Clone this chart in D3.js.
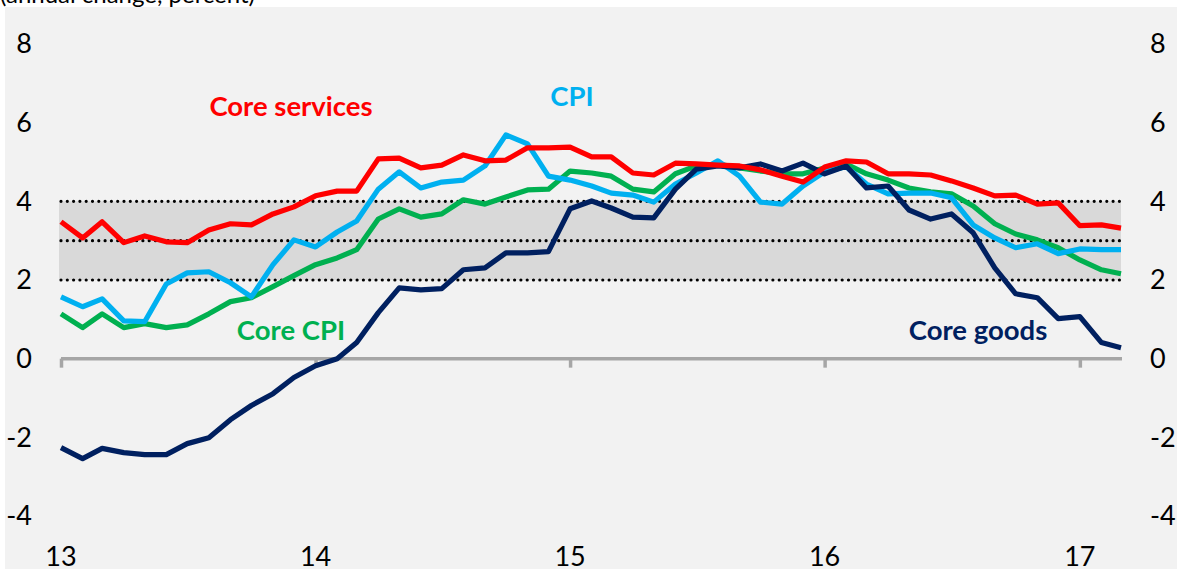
<!DOCTYPE html>
<html>
<head>
<meta charset="utf-8">
<script src="https://cdn.jsdelivr.net/npm/d3@7"></script>
<style>
  body { margin: 0; background: #fff; }
  svg { display: block; }
  text { font-family: Lato, "Open Sans", sans-serif; }
</style>
</head>
<body>
<div id="chart"></div>
<script>
// monthly, Jan 2013 .. Mar 2017 (annual change, percent)
const startMonth = new Date(2013, 0, 1);

const coreServices = [3.48, 3.07, 3.48, 2.95, 3.12, 2.97, 2.95, 3.27, 3.43, 3.40, 3.68, 3.86,
  4.14, 4.26, 4.26, 5.08, 5.10, 4.85, 4.92, 5.18, 5.03, 5.05, 5.36, 5.36,
  5.38, 5.13, 5.13, 4.72, 4.67, 4.97, 4.95, 4.92, 4.90, 4.80, 4.64, 4.49,
  4.87, 5.03, 5.00, 4.70, 4.70, 4.67, 4.52, 4.34, 4.14, 4.16, 3.93, 3.96,
  3.38, 3.40, 3.32];

const cpi = [1.57, 1.32, 1.52, 0.96, 0.94, 1.90, 2.18, 2.21, 1.93, 1.57, 2.39, 3.02,
  2.84, 3.22, 3.50, 4.31, 4.75, 4.34, 4.49, 4.54, 4.90, 5.69, 5.46, 4.64,
  4.54, 4.39, 4.21, 4.16, 3.98, 4.44, 4.72, 5.03, 4.64, 3.98, 3.93, 4.39,
  4.75, 4.88, 4.44, 4.19, 4.21, 4.21, 4.09, 3.40, 3.07, 2.82, 2.92, 2.67,
  2.79, 2.77, 2.77];

const coreCpi = [1.14, 0.79, 1.14, 0.79, 0.89, 0.79, 0.86, 1.14, 1.45, 1.55, 1.83, 2.11,
  2.39, 2.56, 2.77, 3.55, 3.81, 3.60, 3.68, 4.04, 3.93, 4.11, 4.29, 4.31,
  4.77, 4.72, 4.64, 4.31, 4.24, 4.70, 4.90, 4.95, 4.85, 4.77, 4.70, 4.70,
  4.85, 4.95, 4.70, 4.54, 4.34, 4.24, 4.19, 3.88, 3.43, 3.17, 3.02, 2.82,
  2.51, 2.26, 2.16];

const coreGoods = [-2.26, -2.54, -2.28, -2.39, -2.44, -2.44, -2.16, -2.01, -1.55, -1.19, -0.89, -0.48,
  -0.18, 0.00, 0.41, 1.17, 1.80, 1.75, 1.78, 2.26, 2.31, 2.69, 2.69, 2.72,
  3.81, 4.01, 3.83, 3.60, 3.58, 4.31, 4.82, 4.90, 4.85, 4.95, 4.77, 4.97,
  4.70, 4.90, 4.34, 4.39, 3.78, 3.55, 3.68, 3.20, 2.31, 1.65, 1.55, 1.02,
  1.07, 0.41, 0.28];

const yTicks = [-4, -2, 0, 2, 4, 6, 8];
const yearTicks = ["13", "14", "15", "16", "17"];
const targetBand = [2, 4];
const targetLines = [2, 3, 4];

const width = 1177, height = 569;

const months = coreServices.map((d, i) => d3.timeMonth.offset(startMonth, i));

const svg = d3.select("#chart").append("svg")
  .attr("width", width)
  .attr("height", height);

// plot panel background
svg.append("rect")
  .attr("x", 5).attr("y", 7)
  .attr("width", width - 5).attr("height", height - 7)
  .attr("fill", "#f2f2f2");

svg.append("text")
  .attr("x", 0).attr("y", 3)
  .attr("font-size", 24)
  .attr("fill", "#000")
  .text("(annual change, percent)");

const x = d3.scaleTime()
  .domain([startMonth, months[months.length - 1]])
  .range([61, 1121]);

const y = d3.scaleLinear()
  .domain([-4, 8])
  .range([516, 44]);

// target band 2-4
svg.append("rect")
  .attr("x", x.range()[0] - 2)
  .attr("width", x.range()[1] - x.range()[0] + 2)
  .attr("y", y(targetBand[1]))
  .attr("height", y(targetBand[0]) - y(targetBand[1]))
  .attr("fill", "#d9d9d9");

svg.selectAll(".dots")
  .data(targetLines)
  .enter().append("line")
  .attr("x1", x.range()[0]).attr("x2", x.range()[1])
  .attr("y1", d => y(d)).attr("y2", d => y(d))
  .attr("stroke", "#000")
  .attr("stroke-width", 3.2)
  .attr("stroke-linecap", "round")
  .attr("stroke-dasharray", "0 6.3");

// x axis along zero
const yearDates = yearTicks.map((t, i) => new Date(2013 + i, 0, 1));
const xAxis = svg.append("g")
  .attr("transform", "translate(0," + y(0) + ")")
  .call(d3.axisBottom(x).tickValues(yearDates).tickSize(9).tickFormat(""));
xAxis.select(".domain")
  .attr("d", "M" + (x.range()[0]) + ",0H" + (x.range()[1] + 1))
  .attr("stroke", "#a6a6a6").attr("stroke-width", 3.5);
xAxis.selectAll(".tick line").attr("stroke", "#a6a6a6").attr("stroke-width", 3.5);

// year labels at the bottom
svg.selectAll(".year")
  .data(yearDates)
  .enter().append("text")
  .attr("x", d => x(d))
  .attr("y", 566)
  .attr("text-anchor", "middle")
  .attr("font-size", 27)
  .text((d, i) => yearTicks[i]);

// y tick labels both sides
svg.selectAll(".yl")
  .data(yTicks)
  .enter().append("text")
  .attr("x", 32)
  .attr("y", d => y(d))
  .attr("dy", "0.35em")
  .attr("text-anchor", "end")
  .attr("font-size", 27)
  .text(d => d);

svg.selectAll(".yr")
  .data(yTicks)
  .enter().append("text")
  .attr("x", 1150)
  .attr("y", d => y(d))
  .attr("dy", "0.35em")
  .attr("font-size", 27)
  .text(d => d);

const line = d3.line()
  .x((d, i) => x(months[i]))
  .y(d => y(d));

const series = [
  { values: coreCpi, color: "#00b050" },
  { values: cpi, color: "#00b0f0" },
  { values: coreGoods, color: "#002060" },
  { values: coreServices, color: "#ff0000" }
];

svg.selectAll(".series")
  .data(series)
  .enter().append("path")
  .attr("d", d => line(d.values))
  .attr("fill", "none")
  .attr("stroke", d => d.color)
  .attr("stroke-width", 5.2)
  .attr("stroke-linejoin", "round");

// series labels
const labels = [
  { text: "Core services", color: "#ff0000", x: 291, y: 116 },
  { text: "CPI", color: "#00b0f0", x: 572, y: 106 },
  { text: "Core CPI", color: "#00b050", x: 291, y: 340 },
  { text: "Core goods", color: "#002060", x: 978, y: 340 }
];

svg.selectAll(".lbl")
  .data(labels)
  .enter().append("text")
  .attr("x", d => d.x)
  .attr("y", d => d.y)
  .attr("text-anchor", "middle")
  .attr("font-size", 27.5)
  .attr("font-weight", "bold")
  .attr("fill", d => d.color)
  .text(d => d.text);
</script>
</body>
</html>
